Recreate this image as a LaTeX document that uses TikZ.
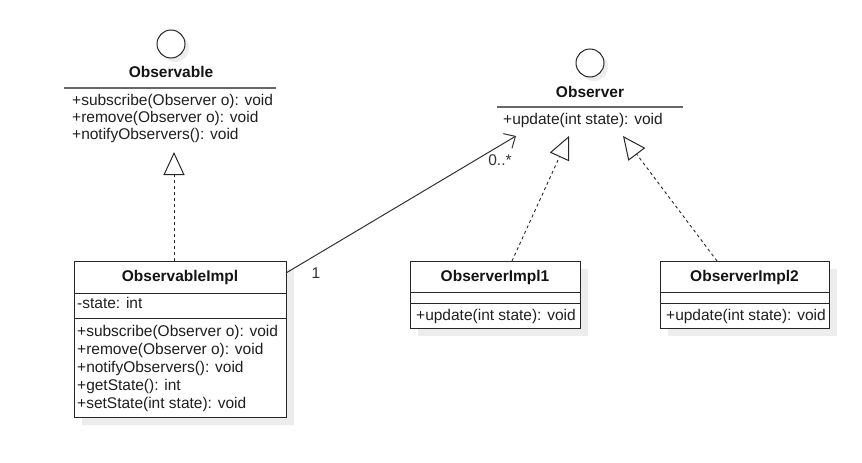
\documentclass[tikz,border=0pt]{standalone}
\usepackage{fontspec}
\setmainfont{Liberation Sans}
\usetikzlibrary{arrows.meta}
\begin{document}
\begin{tikzpicture}[x=1pt,y=-1pt,
  txt/.style={inner sep=0pt, font=\fontsize{15.5}{17.5}\selectfont, text=black!88},
  ttl/.style={inner sep=0pt, font=\fontsize{15.5}{17.5}\selectfont\bfseries, text=black!92},
  box/.style={draw=black!85, line width=1pt, fill=white, inner sep=0pt, anchor=north west},
  shade/.style={fill=black!7, draw=none},
  ifc/.style={circle, draw=black!85, line width=1pt, fill=white, minimum size=28pt, inner sep=0pt},
  hline/.style={draw=black!60, line width=1.3pt},
  cline/.style={draw=black!85, line width=1pt},
  real/.style={draw=black!85, line width=0.9pt, dash pattern=on 3pt off 3pt, -{Triangle[open, length=23pt, width=21pt, line width=1pt, sep=0pt]}},
  assoc/.style={draw=black!80, line width=1pt, -{Straight Barb[length=9pt, width=17pt, line width=1pt]}},
  lbl/.style={inner sep=0pt, font=\fontsize{15.5}{17.5}\selectfont, text=black!80}
]
\useasboundingbox (0,0) rectangle (862,463);

% ---------- shadows ----------
\fill[shade] (175,48) circle (14);
\fill[shade] (594,67) circle (14);
\fill[shade] (82,269) rectangle (294,425);
\fill[shade] (418,269) rectangle (588,336);
\fill[shade] (668,269) rectangle (837,336);

% ---------- Observable interface ----------
\node[ifc] (obsc) at (171,44) {};
\node[ttl, anchor=base] (obst) at (171,77) {Observable};
\coordinate (obsl) at (64,88);
\coordinate (obsr) at (276,88);
\draw[hline] (obsl) -- (obsr);
\node[txt, anchor=base west] (obsm1) at (72,105) {+subscribe(Observer o): void};
\node[txt, anchor=base west] (obsm2) at (72,122) {+remove(Observer o): void};
\node[txt, anchor=base west] (obsm3) at (72,139.5) {+notifyObservers(): void};
\coordinate (obsb) at (174,152);

% ---------- Observer interface ----------
\node[ifc] (obvc) at (590,63) {};
\node[ttl, anchor=base] (obvt) at (590,97) {Observer};
\coordinate (obvl) at (497,107);
\coordinate (obvr) at (683,107);
\draw[hline] (obvl) -- (obvr);
\node[txt, anchor=base west] (obvm1) at (503,124) {+update(int state): void};
\coordinate (obva) at (516,136);
\coordinate (obvb1) at (569,136);
\coordinate (obvb2) at (623,136);

% ---------- ObservableImpl ----------
\node[box, minimum width=212pt, minimum height=156pt] (impl) at (74,261) {};
\draw[cline] (74,293) -- (286,293);
\draw[cline] (74,318) -- (286,318);
\node[ttl, anchor=base] (implt) at (180,281) {ObservableImpl};
\node[txt, anchor=base west] (impla) at (77,308) {-state: int};
\node[txt, anchor=base west] (implm1) at (77,336) {+subscribe(Observer o): void};
\node[txt, anchor=base west] (implm2) at (77,354) {+remove(Observer o): void};
\node[txt, anchor=base west] (implm3) at (77,372) {+notifyObservers(): void};
\node[txt, anchor=base west] (implm4) at (77,390) {+getState(): int};
\node[txt, anchor=base west] (implm5) at (77,408) {+setState(int state): void};
\coordinate (implr) at (286,273);
\coordinate (implt2) at (174,261);

% ---------- ObserverImpl1 ----------
\node[box, minimum width=170pt, minimum height=67pt] (oi1) at (410,261) {};
\draw[cline] (410,292) -- (580,292);
\draw[cline] (410,303) -- (580,303);
\node[ttl, anchor=base] (oi1t) at (495,281) {ObserverImpl1};
\node[txt, anchor=base west] (oi1m) at (416,320) {+update(int state): void};
\coordinate (oi1s) at (512,261);

% ---------- ObserverImpl2 ----------
\node[box, minimum width=169pt, minimum height=67pt] (oi2) at (660,261) {};
\draw[cline] (660,292) -- (829,292);
\draw[cline] (660,303) -- (829,303);
\node[ttl, anchor=base] (oi2t) at (744.5,281) {ObserverImpl2};
\node[txt, anchor=base west] (oi2m) at (666,320) {+update(int state): void};
\coordinate (oi2s) at (717,261);

% ---------- connectors ----------
\draw[real] (implt2) -- (obsb);
\draw[real] (oi1s) -- (obvb1);
\draw[real] (oi2s) -- (obvb2);
\draw[assoc] (implr) -- (obva);
\node[lbl] (mult1) at (316,273) {1};
\node[lbl] (multn) at (500,160) {0..*};
\end{tikzpicture}
\end{document}
